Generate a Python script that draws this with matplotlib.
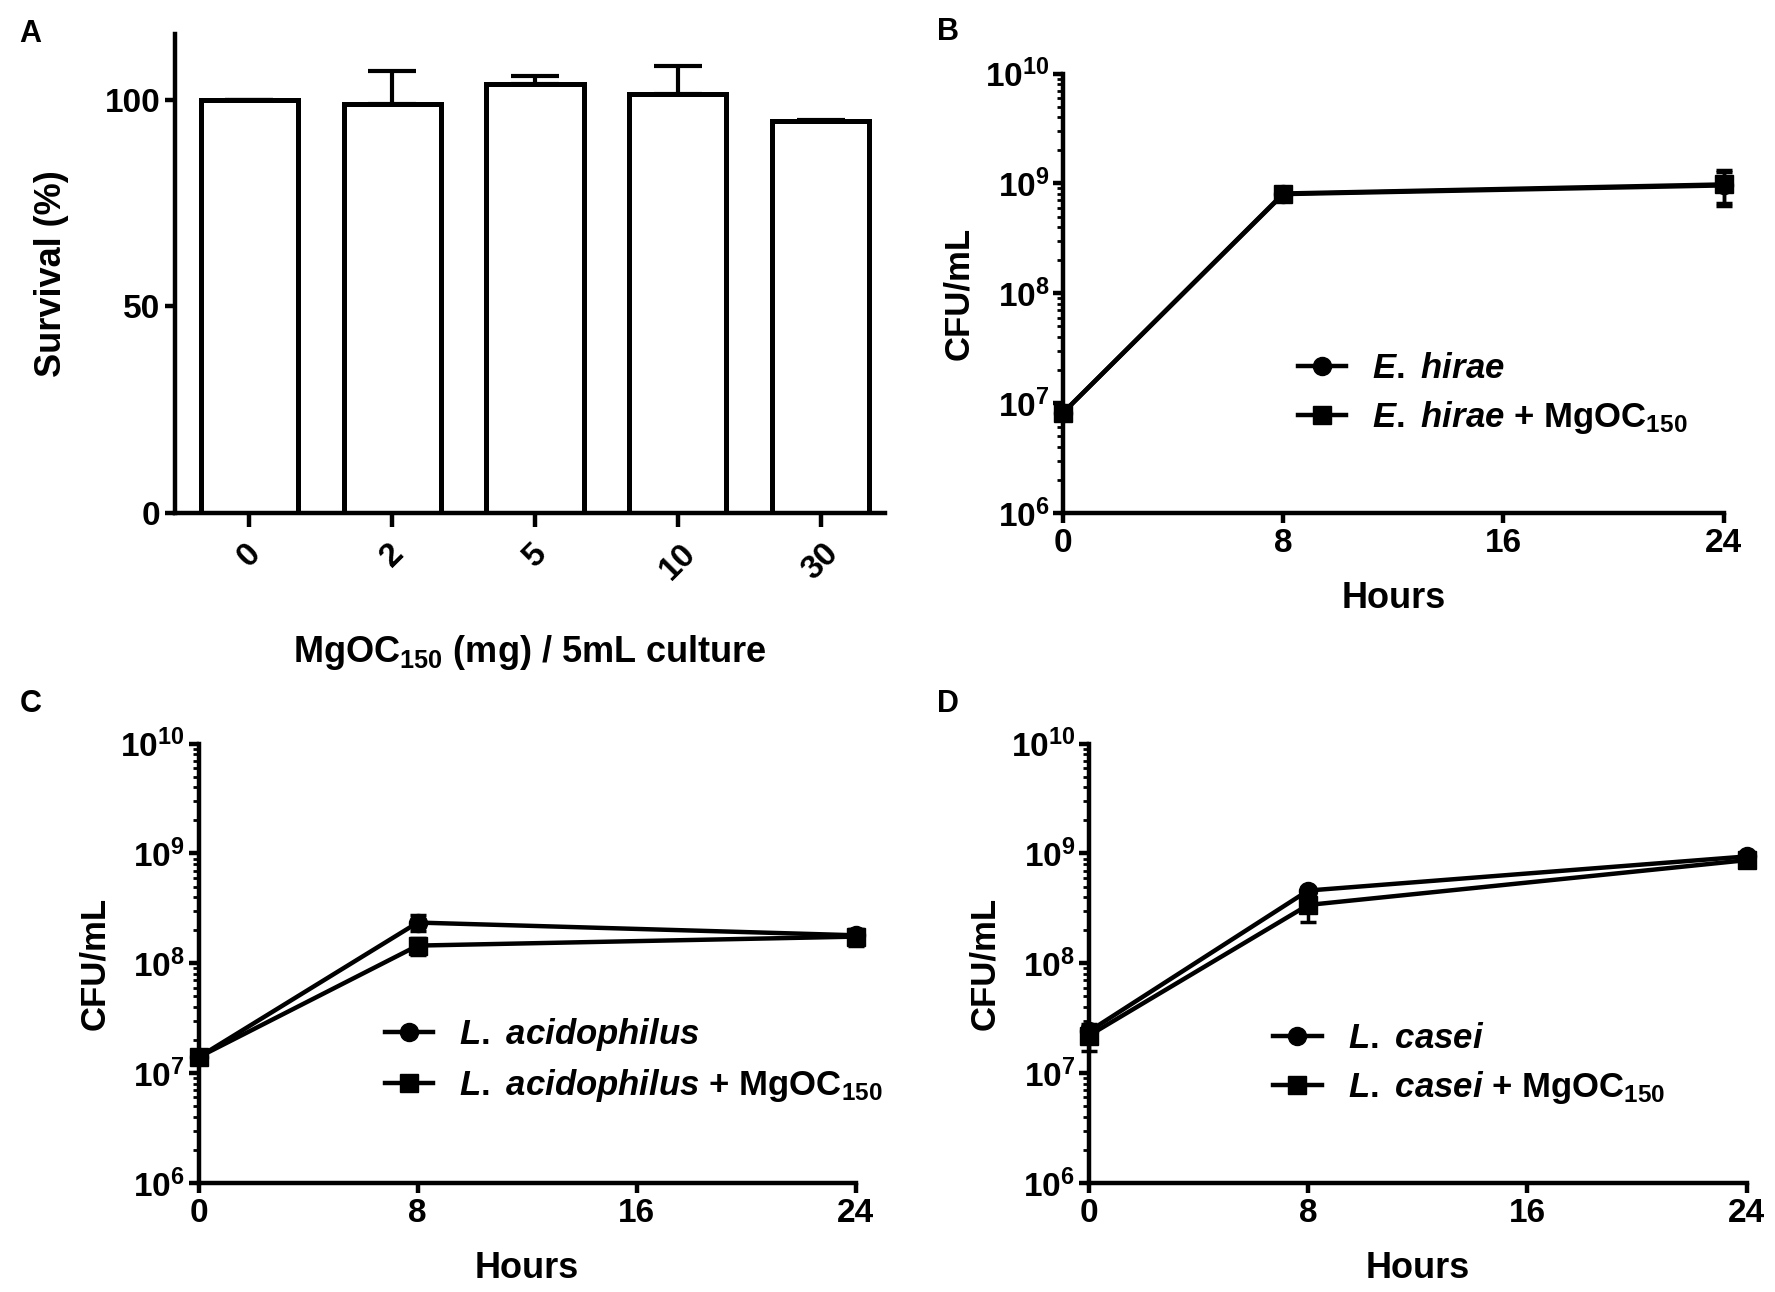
import matplotlib
matplotlib.use("Agg")
import matplotlib.pyplot as plt
from matplotlib.lines import Line2D
from matplotlib.ticker import LogLocator, FixedLocator, NullFormatter

plt.rcParams['font.family'] = ['Liberation Sans', 'DejaVu Sans']
plt.rcParams['font.weight'] = 'bold'
plt.rcParams['mathtext.fontset'] = 'custom'
plt.rcParams['mathtext.rm'] = 'Liberation Sans:bold'
plt.rcParams['mathtext.it'] = 'Liberation Sans:italic:bold'
plt.rcParams['mathtext.bf'] = 'Liberation Sans:bold'
plt.rcParams['mathtext.default'] = 'rm'

# panel A - survival bars
doses = ["0", "2", "5", "10", "30"]
survival = [100.0, 99.0, 103.8, 101.4, 94.8]
survival_sd = [0.0, 8.0, 2.0, 6.8, 0.4]

# growth curves
hours = [0, 8, 24]
hirae = [8.2e6, 8.0e8, 9.6e8]
hirae_sd = [0.8e6, 0.5e8, 3.0e8]
hirae_mg = [8.2e6, 8.1e8, 9.8e8]
hirae_mg_sd = [1.0e6, 0.6e8, 3.5e8]

acid = [1.4e7, 2.35e8, 1.8e8]
acid_sd = [0.1e7, 0.4e8, 0.15e8]
acid_mg = [1.4e7, 1.45e8, 1.75e8]
acid_mg_sd = [0.15e7, 0.25e8, 0.3e8]

casei = [2.4e7, 4.6e8, 9.4e8]
casei_sd = [0.3e7, 0.3e8, 0.5e8]
casei_mg = [2.2e7, 3.4e8, 8.7e8]
casei_mg_sd = [0.6e7, 1.0e8, 0.6e8]

fig = plt.figure(figsize=(17.75, 12.92), dpi=100)

TICK = 24
LAB = 25
LEG = 25
LW = 3.2


def style(ax):
    for s in ['top', 'right']:
        ax.spines[s].set_visible(False)
    for s in ['left', 'bottom']:
        ax.spines[s].set_linewidth(LW)
    ax.tick_params(which='major', direction='out', length=7, width=LW, labelsize=TICK)
    ax.tick_params(which='minor', direction='out', length=4, width=2)


# ---- A ----
axA = fig.add_axes([0.0986, 0.603, 0.400, 0.371])
xs = list(range(len(doses)))
axA.bar(xs, survival, width=0.68, color='white', edgecolor='black', linewidth=3.6, zorder=2)
axA.errorbar(xs, survival, yerr=[[0] * len(xs), survival_sd], fmt='none', ecolor='black',
             elinewidth=3, capsize=17, capthick=3, zorder=1)
axA.set_xlim(-0.52, 4.45)
axA.set_ylim(0, 116)
axA.set_yticks([0, 50, 100])
axA.set_xticks(xs)
axA.set_xticklabels(doses, rotation=45, ha='center', va='top')
style(axA)
axA.tick_params(axis='x', length=10, pad=8)
axA.set_ylabel("Survival (%)", fontsize=LAB + 1, fontweight='bold')
axA.yaxis.set_label_coords(-0.15, 0.5)
axA.set_xlabel("MgOC$_{150}$ (mg) / 5mL culture", fontsize=LAB + 1, fontweight='bold')
axA.xaxis.set_label_coords(0.5, -0.25)


def growth(rect, a, a_sd, b, b_sd, name, leg_xy):
    ax = fig.add_axes(rect)
    ax.set_yscale('log')
    for vals, sd, mk, z in [(a, a_sd, 'o', 3), (b, b_sd, 's', 4)]:
        ax.errorbar(hours, vals, yerr=sd, fmt='-' + mk, color='black', lw=3.2, ms=13,
                    capsize=6, elinewidth=2.5, capthick=2.5, clip_on=False, zorder=z)
    words = name.split(" ")
    it = " ".join(r"$\mathit{%s}$" % w for w in words)
    handles = [Line2D([], [], color='black', lw=3.2, marker='o', ms=13),
               Line2D([], [], color='black', lw=3.2, marker='s', ms=13)]
    labels = [it, it + " + MgOC$_{150}$"]
    ax.set_xlim(0, 24)
    ax.set_ylim(1e6, 1e10)
    ax.set_xticks([0, 8, 16, 24])
    ax.yaxis.set_major_locator(FixedLocator([1e6, 1e7, 1e8, 1e9, 1e10]))
    ax.set_yticklabels([r"$10^{%d}$" % p for p in range(6, 11)])
    ax.yaxis.set_minor_locator(LogLocator(base=10, subs=range(2, 10), numticks=20))
    ax.yaxis.set_minor_formatter(NullFormatter())
    style(ax)
    ax.tick_params(axis='y', pad=3)
    ax.set_ylabel("CFU/mL", fontsize=LAB, fontweight='bold')
    ax.yaxis.set_label_coords(-0.133, 0.5)
    ax.set_xlabel("Hours", fontsize=LAB + 1, fontweight='bold')
    ax.xaxis.set_label_coords(0.5, -0.155)
    leg = ax.legend(handles, labels, loc='center left', bbox_to_anchor=leg_xy, frameon=False,
                    fontsize=LEG, handlelength=1.4, handletextpad=0.75,
                    labelspacing=0.4, borderpad=0, borderaxespad=0)
    for t in leg.get_texts():
        t.set_fontweight('bold')
    return ax


growth([0.599, 0.603, 0.372, 0.340], hirae, hirae_sd, hirae_mg, hirae_mg_sd,
       "E. hirae", (0.355, 0.27))
growth([0.112, 0.0844, 0.370, 0.340], acid, acid_sd, acid_mg, acid_mg_sd,
       "L. acidophilus", (0.283, 0.28))
growth([0.6135, 0.0844, 0.3705, 0.340], casei, casei_sd, casei_mg, casei_mg_sd,
       "L. casei", (0.28, 0.27))

for lab, x, y in [("A", 0.011, 0.974), ("B", 0.528, 0.975), ("C", 0.011, 0.455), ("D", 0.528, 0.455)]:
    fig.text(x, y, lab, fontsize=22, fontweight='bold', va='center', ha='left')

fig.savefig("out.png", dpi=100, facecolor='white')
